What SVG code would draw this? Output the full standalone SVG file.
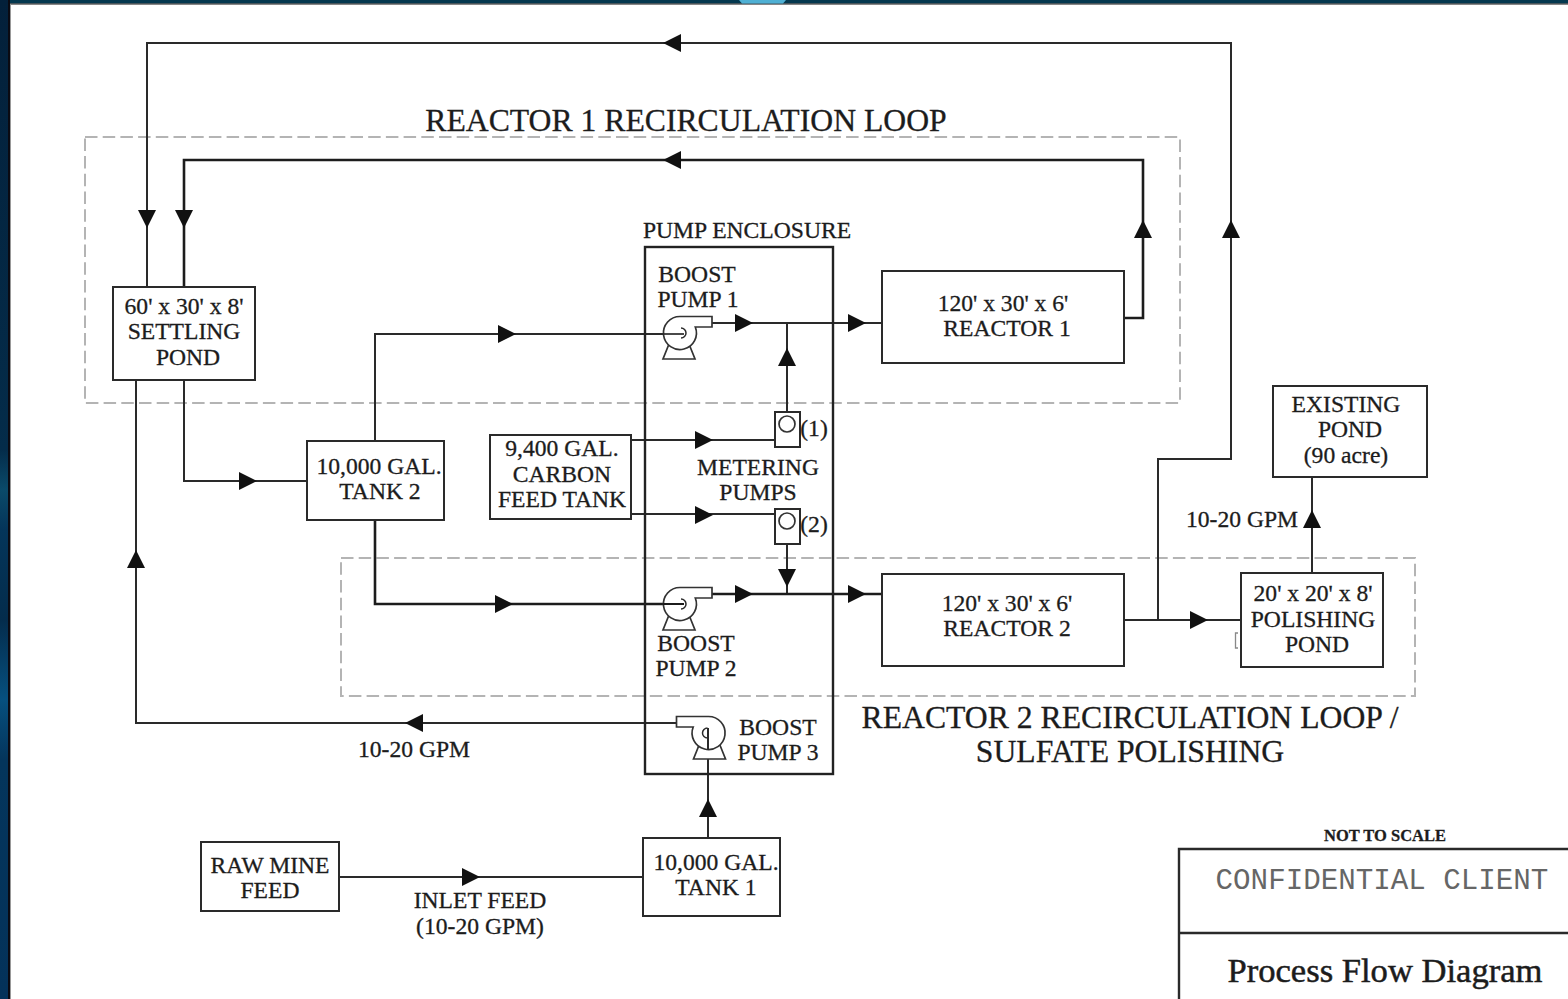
<svg xmlns="http://www.w3.org/2000/svg" width="1568" height="999" viewBox="0 0 1568 999">
<style>
text{font-family:"Liberation Serif","Times New Roman",serif;fill:#1c1c1c;stroke:#1c1c1c;stroke-width:.3;font-size:23.6px;text-anchor:middle}
.b{fill:#fff;stroke:#2a2a2a;stroke-width:2}
.l{fill:none;stroke:#2a2a2a;stroke-width:2}
.t{fill:none;stroke:#1c1c1c;stroke-width:2.6}
.d{fill:none;stroke:#b4b4b4;stroke-width:2;stroke-dasharray:12.5 5.2}
.p{fill:#fff;stroke:#333;stroke-width:1.7}
.big{font-size:31.7px}
</style>
<defs>
<path id="ar" d="M-9-9L9 0L-9 9Z" fill="#111"/>
<linearGradient id="side" x1="0" y1="0" x2="0" y2="1">
<stop offset="0" stop-color="#03203a"/>
<stop offset=".45" stop-color="#042c4a"/>
<stop offset=".49" stop-color="#0a4a6a"/>
<stop offset=".53" stop-color="#04355a"/>
<stop offset=".62" stop-color="#042c4c"/>
<stop offset=".7" stop-color="#06507f"/>
<stop offset=".76" stop-color="#04355c"/>
<stop offset="1" stop-color="#04325a"/>
</linearGradient>
<g id="pump">
<path class="p" d="M-11 11L-17 26H15L9 11Z"/>
<path class="p" d="M0-16.500H32V-6H15.300A16.500 16.500 0 1 1 0-16.500Z"/>
<path class="l" style="stroke-width:1.5" d="M1-5A5 5 0 0 1 1 5"/>
</g>
</defs>
<rect width="1568" height="999" fill="#fff"/>
<g id="frame">
<rect x="0" y="0" width="1568" height="3.500" fill="#04384f"/>
<rect x="0" y="3.500" width="1568" height="1" fill="#111"/>
<rect x="0" y="0" width="8" height="999" fill="url(#side)"/>
<rect x="8" y="0" width="2" height="999" fill="#0a0a12"/>
<rect x="10" y="4" width="1" height="995" fill="#999"/>
<path d="M739 0H786L783 3.500H742Z" fill="#4fb0d4"/>
</g>
<g id="loops">
<rect class="d" x="85" y="137" width="1095" height="266"/>
<rect class="d" x="341" y="558" width="1074" height="138"/>
</g>
<g id="connectors">
<path class="l" d="M147 286V43H1231V459H1158V620"/>
<path class="t" d="M184 286V160H1143V318H1124"/>
<path class="l" d="M184 380V481H307"/>
<path class="l" d="M375 441V334H683"/>
<path class="l" d="M712 323H882"/>
<path class="l" d="M787 323V412"/>
<path class="l" d="M630 440H775"/>
<path class="l" d="M630 514H775"/>
<path class="l" d="M787 544V593"/>
<path class="t" d="M375 520V604H683"/>
<path class="t" d="M712 594H882"/>
<path class="l" d="M1124 620H1241"/>
<path class="l" d="M1312 573V477"/>
<path class="l" d="M136 380V723H677"/>
<path class="l" d="M708 838V728"/>
<path class="l" d="M339 877H642"/>
<path d="M1238 633H1235.500V648H1238" fill="none" stroke="#888" stroke-width="1.3"/>
<use href="#ar" transform="translate(672 43) rotate(180)"/>
<use href="#ar" transform="translate(672 160) rotate(180)"/>
<use href="#ar" transform="translate(147 219) rotate(90)"/>
<use href="#ar" transform="translate(184 219) rotate(90)"/>
<use href="#ar" transform="translate(1143 229) rotate(-90)"/>
<use href="#ar" transform="translate(1231 229) rotate(-90)"/>
<use href="#ar" transform="translate(507 334)"/>
<use href="#ar" transform="translate(744 323)"/>
<use href="#ar" transform="translate(857 323)"/>
<use href="#ar" transform="translate(787 357) rotate(-90)"/>
<use href="#ar" transform="translate(704 440)"/>
<use href="#ar" transform="translate(704 515)"/>
<use href="#ar" transform="translate(248 481)"/>
<use href="#ar" transform="translate(504 604)"/>
<use href="#ar" transform="translate(744 594)"/>
<use href="#ar" transform="translate(857 594)"/>
<use href="#ar" transform="translate(787 578) rotate(90)"/>
<use href="#ar" transform="translate(1199 620)"/>
<use href="#ar" transform="translate(1312 519) rotate(-90)"/>
<use href="#ar" transform="translate(136 559) rotate(-90)"/>
<use href="#ar" transform="translate(414 723) rotate(180)"/>
<use href="#ar" transform="translate(708 808) rotate(-90)"/>
<use href="#ar" transform="translate(471 877)"/>
</g>
<text x="686" y="131" class="big">REACTOR 1 RECIRCULATION LOOP</text>
<g id="enclosure">
<rect x="645" y="247" width="188" height="527" fill="none" stroke="#222" stroke-width="2.4"/>
<text x="747" y="238">PUMP ENCLOSURE</text>
</g>
<g id="settling-pond"><rect class="b" x="113" y="287" width="142" height="93"/>
<text x="184" y="314">60' x 30' x 8'</text><text x="184" y="339">SETTLING</text><text x="188" y="365">POND</text></g>
<g id="tank2"><rect class="b" x="307" y="441" width="137" height="79"/>
<text x="379" y="474">10,000 GAL.</text><text x="380" y="499">TANK 2</text></g>
<g id="carbon-tank"><rect class="b" x="490" y="435" width="141" height="84"/>
<text x="562" y="456">9,400 GAL.</text><text x="562" y="482">CARBON</text><text x="562" y="507">FEED TANK</text></g>
<g id="reactor1"><rect class="b" x="882" y="271" width="242" height="92"/>
<text x="1003" y="311">120' x 30' x 6'</text><text x="1007" y="336">REACTOR 1</text></g>
<g id="reactor2"><rect class="b" x="882" y="574" width="242" height="92"/>
<text x="1007" y="611">120' x 30' x 6'</text><text x="1007" y="636">REACTOR 2</text></g>
<g id="polishing-pond"><rect class="b" x="1241" y="573" width="142" height="94"/>
<text x="1313" y="601">20' x 20' x 8'</text><text x="1313" y="627">POLISHING</text><text x="1317" y="652">POND</text></g>
<g id="existing-pond"><rect class="b" x="1273" y="386" width="154" height="91"/>
<text x="1346" y="412">EXISTING</text><text x="1350" y="437">POND</text><text x="1346" y="463">(90 acre)</text></g>
<g id="raw-feed"><rect class="b" x="201" y="842" width="138" height="69"/>
<text x="270" y="873">RAW MINE</text><text x="270" y="898">FEED</text></g>
<g id="tank1"><rect class="b" x="643" y="838" width="137" height="78"/>
<text x="716" y="870">10,000 GAL.</text><text x="716" y="895">TANK 1</text></g>
<g id="boost-pump-1"><use href="#pump" x="680" y="333"/>
<path class="l" style="stroke-width:1.7" d="M663 334H684"/>
<text x="697" y="282">BOOST</text><text x="698" y="307">PUMP 1</text></g>
<g id="boost-pump-2"><use href="#pump" x="680" y="604"/>
<path class="t" style="stroke-width:2" d="M663 604H684"/>
<text x="696" y="651">BOOST</text><text x="696" y="676">PUMP 2</text></g>
<g id="boost-pump-3"><use href="#pump" transform="translate(708.500 733) scale(-1 1)"/>
<path class="l" d="M708 750V728"/>
<text x="778" y="735">BOOST</text><text x="778" y="760">PUMP 3</text></g>
<g id="metering-pump-1"><rect class="b" x="775" y="412" width="25" height="35"/><circle class="p" cx="787" cy="424" r="8"/>
<text x="814" y="436">(1)</text></g>
<g id="metering-pump-2"><rect class="b" x="775" y="509" width="25" height="35"/><circle class="p" cx="787" cy="521" r="8"/>
<text x="814" y="532">(2)</text></g>
<text x="758" y="475">METERING</text>
<text x="758" y="500">PUMPS</text>
<text x="1242" y="527">10-20 GPM</text>
<text x="414" y="757">10-20 GPM</text>
<text x="480" y="908">INLET FEED</text>
<text x="480" y="934">(10-20 GPM)</text>
<text x="1130" y="728" class="big">REACTOR 2 RECIRCULATION LOOP /</text>
<text x="1130" y="762" class="big">SULFATE POLISHING</text>
<g id="title-block">
<text x="1385" y="841" style="font-size:16.500px;font-weight:bold">NOT TO SCALE</text>
<path class="l" style="stroke-width:2.4" d="M1568 849H1179V999M1179 933H1568"/>
<text x="1382" y="889" style="font-family:'Liberation Mono',monospace;font-size:29.200px;fill:#666;stroke:none">CONFIDENTIAL CLIENT</text>
<text x="1385" y="982" style="font-size:34.600px;stroke-width:.5">Process Flow Diagram</text>
</g>
</svg>
